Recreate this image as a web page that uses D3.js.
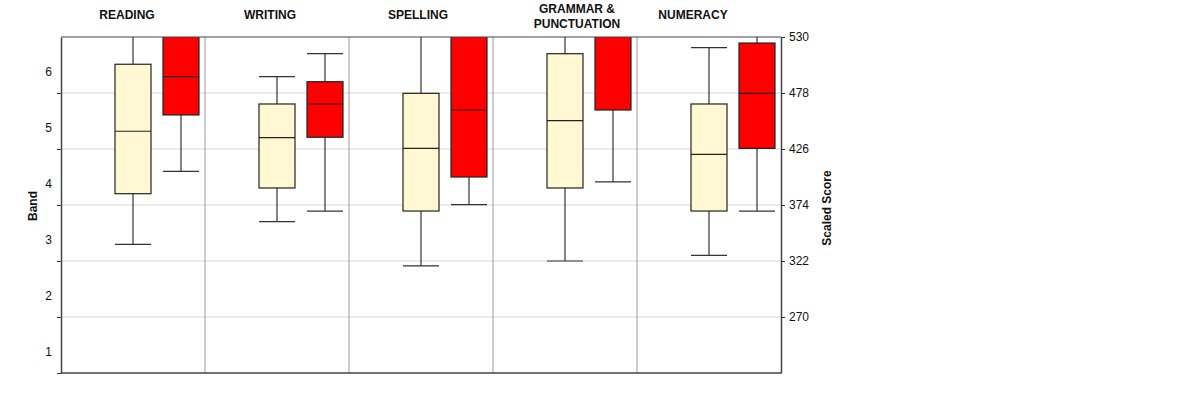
<!DOCTYPE html>
<html>
<head>
<meta charset="utf-8">
<script src="https://cdn.jsdelivr.net/npm/d3@7"></script>
<style>
  body { margin: 0; background: #fff; }
  svg { font-family: "Liberation Sans", Arial, sans-serif; }
  .tick line { stroke: #333; }
  .tick text { fill: #111; font-size: 12px; }
</style>
</head>
<body>
<svg id="chart" width="1200" height="396"></svg>
<script>
// subjects and their header lines
const subjects = ["READING", "WRITING", "SPELLING", "GRAMMAR & PUNCTUATION", "NUMERACY"];
const subjectLines = [["READING"], ["WRITING"], ["SPELLING"], ["GRAMMAR &", "PUNCTUATION"], ["NUMERACY"]];

// five number summaries [min, q1, median, q3, max] in scaled score
const seriesNames = ["cream", "red"];
const creamStats = [
  [337.5, 384.5, 442.5, 504.7, 560],
  [358.5, 389.8, 436.5, 467.8, 493.2],
  [317.4, 368.4, 426.6, 477.7, 560],
  [322.0, 389.8, 452.3, 514.5, 560],
  [327.3, 368.4, 421.1, 467.8, 520.1]
];
const redStats = [
  [405.3, 457.6, 493.2, 545, 570],
  [368.4, 436.9, 467.8, 488.5, 514.5],
  [374.3, 400.0, 462.2, 545, 570],
  [395.4, 462.2, 540, 550, 575],
  [368.4, 426.6, 477.7, 524.4, 560]
];

const bandTicks = [1, 2, 3, 4, 5, 6];
const scoreTicks = [270, 322, 374, 426, 478, 530];

const margin = {left: 61, top: 37, right: 419, bottom: 23};
const W = 1200 - margin.left - margin.right;
const H = 396 - margin.top - margin.bottom;

const svg = d3.select("#chart");
const g = svg.append("g").attr("transform", "translate(" + margin.left + "," + margin.top + ")");

const x = d3.scaleBand().domain(subjects).range([0, W]);
const xs = d3.scalePoint().domain(seriesNames).range([x.bandwidth() * 0.5, x.bandwidth() * 0.8333]);
const boxW = 36;

const yScore = d3.scaleLinear().domain([218, 530]).range([H, 0]);
const yBand = d3.scaleLinear().domain([1, 7]).range([H, 0]);

// grid
g.append("g").selectAll("line")
  .data(scoreTicks.slice(0, -1))
  .enter().append("line")
  .attr("x1", 0).attr("x2", W)
  .attr("y1", d => yScore(d)).attr("y2", d => yScore(d))
  .attr("stroke", "#d6d6d6");

// panel dividers
g.append("g").selectAll("line")
  .data(subjects.slice(1))
  .enter().append("line")
  .attr("x1", d => x(d)).attr("x2", d => x(d))
  .attr("y1", 0).attr("y2", H)
  .attr("stroke", "#9a9a9a");

svg.append("defs").append("clipPath").attr("id", "plotClip")
  .append("rect").attr("x", 0).attr("y", 0).attr("width", W).attr("height", H);

const plot = g.append("g").attr("clip-path", "url(#plotClip)");

function drawSeries(stats, name, fill) {
  const grp = plot.append("g").selectAll("g")
    .data(stats)
    .enter().append("g")
    .attr("transform", (d, i) => "translate(" + (x(subjects[i]) + xs(name)) + ",0)");

  grp.append("line")
    .attr("x1", 0).attr("x2", 0)
    .attr("y1", d => yScore(d[0])).attr("y2", d => yScore(d[4]))
    .attr("stroke", "#333").attr("stroke-width", 1.2);
  grp.append("line")
    .attr("x1", -boxW / 2).attr("x2", boxW / 2)
    .attr("y1", d => yScore(d[0])).attr("y2", d => yScore(d[0]))
    .attr("stroke", "#333").attr("stroke-width", 1.2);
  grp.append("line")
    .attr("x1", -boxW / 2).attr("x2", boxW / 2)
    .attr("y1", d => yScore(d[4])).attr("y2", d => yScore(d[4]))
    .attr("stroke", "#333").attr("stroke-width", 1.2);
  grp.append("rect")
    .attr("x", -boxW / 2).attr("width", boxW)
    .attr("y", d => yScore(d[3]))
    .attr("height", d => yScore(d[1]) - yScore(d[3]))
    .attr("fill", fill).attr("stroke", "#222").attr("stroke-width", 1.2);
  grp.append("line")
    .attr("x1", -boxW / 2).attr("x2", boxW / 2)
    .attr("y1", d => yScore(d[2])).attr("y2", d => yScore(d[2]))
    .attr("stroke", "#222").attr("stroke-width", 1.2);
}

drawSeries(creamStats, "cream", "#fff8d2");
drawSeries(redStats, "red", "#ff0000");

// frame
g.append("line").attr("x1", 0).attr("x2", W).attr("y1", 0).attr("y2", 0).attr("stroke", "#444").attr("stroke-width", 1.2);
g.append("line").attr("x1", 0).attr("x2", W).attr("y1", H).attr("y2", H).attr("stroke", "#444").attr("stroke-width", 1.5);

// left axis: ticks on band boundaries, labels inside bands
const leftAxis = g.append("g")
  .call(d3.axisLeft(yBand).tickValues(bandTicks).tickSize(4).tickSizeOuter(0).tickFormat(""));
leftAxis.select(".domain").attr("stroke", "#444").attr("stroke-width", 1.5);

g.append("g").selectAll("text")
  .data(bandTicks)
  .enter().append("text")
  .attr("x", -9)
  .attr("y", d => yBand(d + 0.5) + 11)
  .attr("text-anchor", "end")
  .attr("font-size", 12)
  .attr("fill", "#111")
  .text(d => d);

// right axis
const rightAxis = g.append("g")
  .attr("transform", "translate(" + W + ",0)")
  .call(d3.axisRight(yScore).tickValues(scoreTicks).tickSize(4).tickSizeOuter(0).tickPadding(4));
rightAxis.select(".domain").attr("stroke", "#444").attr("stroke-width", 1.5);

// subject headers
const titleShift = [-6, -7, -3, 12, -16];
const titles = svg.append("g").selectAll("text")
  .data(subjectLines)
  .enter().append("text")
  .attr("text-anchor", "middle")
  .attr("font-size", 12)
  .attr("font-weight", "bold")
  .attr("fill", "#111")
  .attr("transform", (d, i) => "translate(" + (margin.left + x(subjects[i]) + x.bandwidth() / 2 + titleShift[i]) + "," + (d.length > 1 ? 13 : 19) + ")");
titles.selectAll("tspan")
  .data(d => d)
  .enter().append("tspan")
  .attr("x", 0)
  .attr("dy", (d, i) => i === 0 ? 0 : 15)
  .text(d => d);

// axis titles
svg.append("text")
  .attr("transform", "translate(37," + (margin.top + H / 2 + 1) + ") rotate(-90)")
  .attr("text-anchor", "middle")
  .attr("font-size", 12).attr("font-weight", "bold").attr("fill", "#111")
  .text("Band");
svg.append("text")
  .attr("transform", "translate(831," + (margin.top + H / 2 + 3) + ") rotate(-90)")
  .attr("text-anchor", "middle")
  .attr("font-size", 12).attr("font-weight", "bold").attr("fill", "#111")
  .text("Scaled Score");
</script>
</body>
</html>
